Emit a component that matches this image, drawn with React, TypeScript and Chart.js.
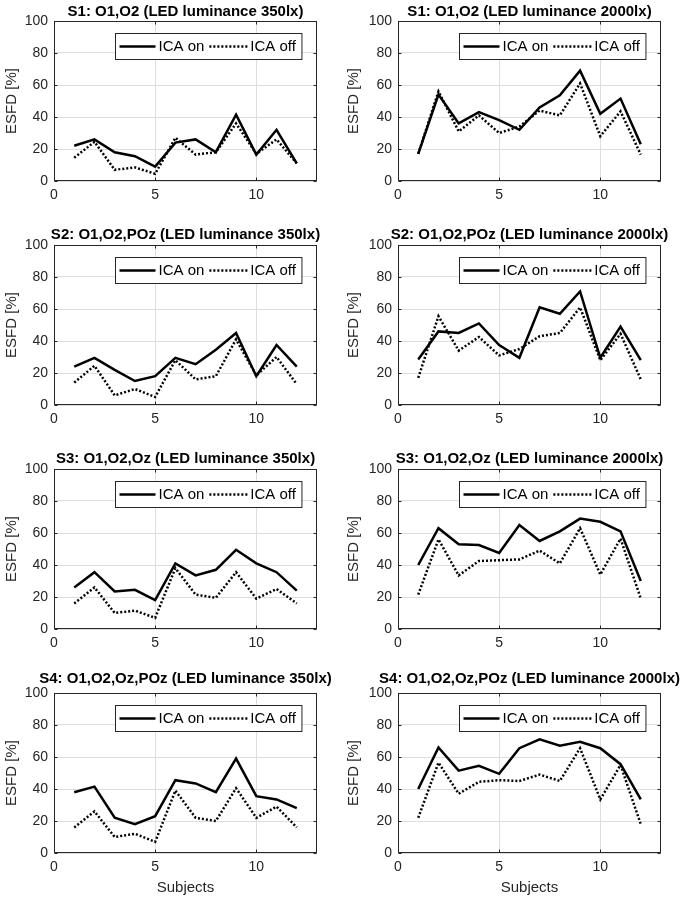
import React, { useEffect, useRef } from "react";
import { Chart, registerables } from "chart.js";

Chart.register(...registerables);

// ---------- data ----------
const SUBJECTS = [1, 2, 3, 4, 5, 6, 7, 8, 9, 10, 11, 12];
const X_TICKS = [0, 5, 10];
const Y_TICKS = [0, 20, 40, 60, 80, 100];
const SERIES_LABELS = ["ICA on", "ICA off"];
const Y_LABEL = "ESFD [%]";
const X_LABEL = "Subjects";

const TITLES = [
  "S1: O1,O2 (LED luminance 350lx)",
  "S1: O1,O2 (LED luminance 2000lx)",
  "S2: O1,O2,POz (LED luminance 350lx)",
  "S2: O1,O2,POz (LED luminance 2000lx)",
  "S3: O1,O2,Oz (LED luminance 350lx)",
  "S3: O1,O2,Oz (LED luminance 2000lx)",
  "S4: O1,O2,Oz,POz (LED luminance 350lx)",
  "S4: O1,O2,Oz,POz (LED luminance 2000lx)",
];

const S1_350_ON = [22, 26, 18, 15.5, 9, 24, 26, 18, 41.5, 16.5, 32, 11];
const S1_350_OFF = [14.5, 24.5, 7, 8.5, 4.5, 27, 16.5, 18, 36, 17, 26, 11];
const S1_2000_ON = [17, 54, 36, 43, 38, 32, 46, 53.5, 69, 42, 51.5, 23];
const S1_2000_OFF = [17, 56, 31, 41, 30, 34, 44, 41, 61, 28, 43.5, 16.5];

const S2_350_ON = [24, 29.5, 22, 15, 18, 29.5, 25.5, 34.5, 45, 18, 37.5, 24];
const S2_350_OFF = [14, 24.5, 6, 10, 5, 28, 16, 18, 41, 18.5, 30, 13];
const S2_2000_ON = [28.5, 46, 45, 51, 37.5, 29.5, 61, 57, 71, 29.5, 49, 28];
const S2_2000_OFF = [17, 55.5, 34, 42.5, 31, 35, 43, 45, 61, 28, 44.5, 16];

const S3_350_ON = [26, 35.5, 23.5, 24.5, 18, 41, 33.5, 37, 49.5, 41, 35.5, 24];
const S3_350_OFF = [16, 26, 10, 11.5, 7, 38, 21.5, 19.5, 35.5, 19, 25, 16];
const S3_2000_ON = [40, 63, 53, 52.5, 47.5, 65, 55, 61, 69, 67, 61, 30];
const S3_2000_OFF = [21.5, 56, 33.5, 42.5, 43, 43.5, 49, 41, 63, 34, 56.5, 19];

const S4_350_ON = [38, 41.5, 22, 18, 23, 45.5, 43.5, 38, 59, 35.5, 33.5, 28];
const S4_350_OFF = [16, 26, 10, 12, 7, 39, 22, 20, 40.5, 22, 29, 16];
const S4_2000_ON = [40, 66, 51.5, 54.5, 49.5, 65.5, 71, 67, 69.5, 65.5, 55.5, 33.5];
const S4_2000_OFF = [22, 56.5, 37, 44.5, 45.5, 45, 49, 45, 65.5, 33.5, 55, 18];

const PANELS = [
  { title: TITLES[0], on: S1_350_ON, off: S1_350_OFF },
  { title: TITLES[1], on: S1_2000_ON, off: S1_2000_OFF },
  { title: TITLES[2], on: S2_350_ON, off: S2_350_OFF },
  { title: TITLES[3], on: S2_2000_ON, off: S2_2000_OFF },
  { title: TITLES[4], on: S3_350_ON, off: S3_350_OFF },
  { title: TITLES[5], on: S3_2000_ON, off: S3_2000_OFF },
  { title: TITLES[6], on: S4_350_ON, off: S4_350_OFF },
  { title: TITLES[7], on: S4_2000_ON, off: S4_2000_OFF },
];

// ---------- layout / style ----------
const FONT = "'Liberation Sans', Arial, Helvetica, sans-serif";
const AXIS_COLOR = "#262626";
const GRID_COLOR = "#dedede";
const ROW_TOPS = [0, 224, 448, 672];
const ROW_HEIGHTS = [224, 224, 224, 227];
const TITLE_GAP = [9, 10, 10, 14];
const PLOT_TOP = 21;
const PLOT_HEIGHT = 160;

type PanelProps = { index: number; title: string; on: number[]; off: number[] };

function Panel({ index, title, on, off }: PanelProps) {
  const ref = useRef<HTMLCanvasElement | null>(null);
  const col = index % 2;
  const row = Math.floor(index / 2);
  const left = col === 0 ? 0 : 342;
  const width = col === 0 ? 336 : 343;
  const height = ROW_HEIGHTS[row];
  const yAxisWidth = col === 0 ? 54 : 56;
  const padRight = col === 0 ? 19 : 24;
  const isBottom = row === 3;

  useEffect(() => {
    if (!ref.current) return;
    const decor = {
      id: "matlabDecor",
      afterDraw(chart: any) {
        const { ctx, chartArea: a, scales } = chart;
        ctx.save();
        // axes box
        const L = Math.round(a.left) + 0.5;
        const R = Math.round(a.right) - 0.5;
        const T = Math.round(a.top) + 0.5;
        const B = Math.round(a.bottom) - 0.5;
        ctx.strokeStyle = AXIS_COLOR;
        ctx.lineWidth = 1;
        ctx.setLineDash([]);
        ctx.strokeRect(L, T, R - L, B - T);
        // inward ticks
        const tl = 3;
        ctx.beginPath();
        X_TICKS.forEach((v) => {
          const px = Math.round(scales.x.getPixelForValue(v)) + 0.5;
          ctx.moveTo(px, B);
          ctx.lineTo(px, B - tl);
          ctx.moveTo(px, T);
          ctx.lineTo(px, T + tl);
        });
        Y_TICKS.forEach((v) => {
          const py = Math.round(scales.y.getPixelForValue(v)) + 0.5;
          ctx.moveTo(L, py);
          ctx.lineTo(L + tl, py);
          ctx.moveTo(R, py);
          ctx.lineTo(R - tl, py);
        });
        ctx.stroke();

        // legend
        ctx.font = `15px ${FONT}`;
        const ds = chart.data.datasets;
        const widths = ds.map((d: any) => ctx.measureText(d.label).width);
        const lineLens = [36, 38];
        const boxW = 4 + lineLens[0] + 3 + widths[0] + 5 + lineLens[1] + 3 + widths[1] + 6;
        const boxH = 26;
        const bx = Math.round(a.right - 16 - boxW) + 0.5;
        const by = Math.round(a.top + 12) + 0.5;
        ctx.fillStyle = "#ffffff";
        ctx.fillRect(bx, by, boxW, boxH);
        ctx.strokeStyle = AXIS_COLOR;
        ctx.lineWidth = 1;
        ctx.strokeRect(bx, by, boxW, boxH);
        const cy = by + boxH / 2;
        let x = bx + 4;
        ds.forEach((d: any, i: number) => {
          ctx.save();
          ctx.strokeStyle = d.borderColor;
          ctx.lineWidth = d.borderWidth;
          ctx.lineCap = "butt";
          ctx.setLineDash(d.borderDash || []);
          ctx.beginPath();
          ctx.moveTo(x, cy);
          ctx.lineTo(x + lineLens[i], cy);
          ctx.stroke();
          ctx.restore();
          x += lineLens[i] + 3;
          ctx.fillStyle = "#000000";
          ctx.textAlign = "left";
          ctx.textBaseline = "middle";
          ctx.fillText(d.label, x, cy + 0.5);
          x += widths[i] + 5;
        });

        // title
        ctx.font = `bold 15px ${FONT}`;
        const tw = ctx.measureText(title).width;
        let tx = (a.left + a.right) / 2 - tw / 2;
        if (tx + tw > chart.width - 1) tx = chart.width - 1 - tw;
        if (tx < 1) tx = 1;
        ctx.fillStyle = "#000000";
        ctx.textAlign = "left";
        ctx.textBaseline = "middle";
        ctx.fillText(title, tx, a.top - TITLE_GAP[row]);
        ctx.restore();
      },
    };

    const chart = new Chart(ref.current, {
      type: "line",
      data: {
        datasets: [
          {
            label: SERIES_LABELS[0],
            data: on.map((y, i) => ({ x: SUBJECTS[i], y })),
            borderColor: "#000000",
            borderWidth: 2.5,
            pointRadius: 0,
            tension: 0,
            fill: false,
          },
          {
            label: SERIES_LABELS[1],
            data: off.map((y, i) => ({ x: SUBJECTS[i], y })),
            borderColor: "#000000",
            borderWidth: 2.5,
            borderDash: [2, 2],
            borderCapStyle: "butt",
            pointRadius: 0,
            tension: 0,
            fill: false,
          },
        ],
      },
      options: {
        animation: false,
        responsive: false,
        maintainAspectRatio: false,
        events: [],
        layout: { padding: { left: 0, right: padRight, top: PLOT_TOP, bottom: 0 } },
        plugins: {
          legend: { display: false },
          title: { display: false },
          tooltip: { enabled: false },
        },
        scales: {
          x: {
            type: "linear",
            min: 0,
            max: 13,
            afterBuildTicks: (s: any) => {
              s.ticks = X_TICKS.map((v) => ({ value: v }));
            },
            afterFit: (s: any) => {
              s.height = height - PLOT_TOP - PLOT_HEIGHT;
            },
            grid: { color: GRID_COLOR, drawTicks: false, lineWidth: 1 },
            border: { display: false },
            ticks: {
              font: { family: FONT, size: 14 },
              color: AXIS_COLOR,
              padding: 6,
              maxRotation: 0,
              autoSkip: false,
            },
            title: {
              display: isBottom,
              text: X_LABEL,
              font: { family: FONT, size: 15 },
              color: AXIS_COLOR,
              padding: { top: 0, bottom: 2 },
            },
          },
          y: {
            type: "linear",
            min: 0,
            max: 100,
            afterBuildTicks: (s: any) => {
              s.ticks = Y_TICKS.map((v) => ({ value: v }));
            },
            afterFit: (s: any) => {
              s.width = yAxisWidth;
            },
            grid: { color: GRID_COLOR, drawTicks: false, lineWidth: 1 },
            border: { display: false },
            ticks: {
              font: { family: FONT, size: 14 },
              color: AXIS_COLOR,
              padding: 6,
              autoSkip: false,
            },
            title: {
              display: true,
              text: Y_LABEL,
              font: { family: FONT, size: 15 },
              color: AXIS_COLOR,
              padding: { top: 3, bottom: 0 },
            },
          },
        },
      },
      plugins: [decor],
    } as any);
    return () => chart.destroy();
  }, [index, title, on, off]);

  return (
    <canvas
      ref={ref}
      width={width}
      height={height}
      style={{
        position: "absolute",
        left: left,
        top: ROW_TOPS[row],
        width: width,
        height: height,
        display: "block",
      }}
    />
  );
}

export default function App() {
  return (
    <div
      style={{
        position: "fixed",
        left: 0,
        top: 0,
        width: 685,
        height: 899,
        background: "#ffffff",
        overflow: "hidden",
      }}
    >
      {PANELS.map((p, i) => (
        <Panel key={i} index={i} title={p.title} on={p.on} off={p.off} />
      ))}
    </div>
  );
}
